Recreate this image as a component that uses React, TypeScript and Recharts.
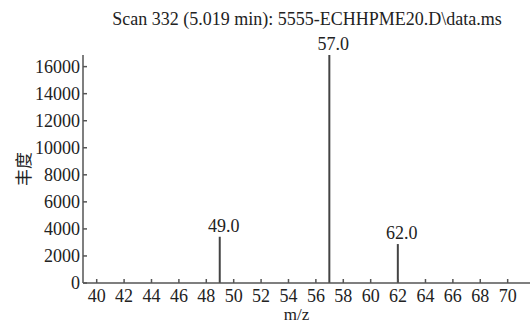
import React from 'react';
import { ComposedChart, Bar, XAxis, YAxis, LabelList } from 'recharts';

const mz = [49, 57, 62];
const abundance = [3420, 16860, 2880];
const peakLabels = ['49.0', '57.0', '62.0'];
const xTicks = [40, 42, 44, 46, 48, 50, 52, 54, 56, 58, 60, 62, 64, 66, 68, 70];
const yTicks = [0, 2000, 4000, 6000, 8000, 10000, 12000, 14000, 16000];
const title = 'Scan 332 (5.019 min): 5555-ECHHPME20.D\\data.ms';

const data = mz.map((m, i) => ({ mz: m, ab: abundance[i], label: peakLabels[i] }));

const SERIF = "'Liberation Serif', 'Times New Roman', serif";
const AXIS = '#555';
const TEXT = '#222';
const FS = 18;

const XTick = (props: any) => {
  const { x, y, payload } = props;
  return (
    <text x={x} y={y + 23} textAnchor="middle" style={{ fontFamily: SERIF, fontSize: FS }} fill={TEXT}>
      {payload.value}
    </text>
  );
};

const YTick = (props: any) => {
  const { x, y, payload } = props;
  return (
    <text x={x} y={y + 6} textAnchor="end" style={{ fontFamily: SERIF, fontSize: FS }} fill={TEXT}>
      {payload.value}
    </text>
  );
};

const PeakLabel = (props: any) => {
  const { x, y, width, value } = props;
  return (
    <text x={x + width / 2 + 4} y={y - 5} textAnchor="middle" style={{ fontFamily: SERIF, fontSize: FS }} fill={TEXT}>
      {value}
    </text>
  );
};

const XLabel = (props: any) => {
  const { viewBox } = props;
  return (
    <text
      x={viewBox.x + viewBox.width / 2 - 10}
      y={viewBox.y + viewBox.height - 3.8}
      textAnchor="middle"
      style={{ fontFamily: SERIF, fontSize: 17 }}
      fill={TEXT}
    >
      m/z
    </text>
  );
};

const YLabel = (props: any) => {
  const { viewBox } = props;
  const cx = viewBox.x + 22;
  const cy = viewBox.y + viewBox.height / 2;
  return (
    <text
      x={cx}
      y={cy}
      transform={`rotate(-90 ${cx} ${cy})`}
      textAnchor="middle"
      dominantBaseline="central"
      style={{ fontFamily: "'Noto Sans CJK SC', sans-serif", fontSize: 17 }}
      fill={TEXT}
    >
      丰度
    </text>
  );
};

export default function App() {
  return (
    <div style={{ position: 'absolute', left: 0, top: 0, width: 531, height: 324, background: '#fff' }}>
      <div
        style={{
          position: 'absolute',
          left: 0,
          width: 614,
          top: 7,
          textAlign: 'center',
          fontFamily: SERIF,
          fontSize: FS,
          lineHeight: '24px',
          color: TEXT,
          whiteSpace: 'nowrap',
        }}
      >
        {title}
      </div>
      <ComposedChart width={531} height={324} data={data} margin={{ top: 55, right: 1, bottom: 0, left: 0 }}>
        <XAxis
          dataKey="mz"
          type="number"
          domain={[39, 71.63]}
          ticks={xTicks}
          allowDataOverflow
          stroke={AXIS}
          strokeWidth={1.5}
          tickSize={-4}
          tickMargin={0}
          tick={<XTick />}
          interval={0}
          height={41}
          label={<XLabel />}
        />
        <YAxis
          type="number"
          domain={[0, 16860]}
          ticks={yTicks}
          allowDataOverflow
          width={83}
          stroke={AXIS}
          strokeWidth={1.5}
          tickSize={-4}
          tickMargin={7}
          tick={<YTick />}
          interval={0}
          label={<YLabel />}
        />
        <Bar dataKey="ab" fill="#444" barSize={2} isAnimationActive={false}>
          <LabelList dataKey="label" content={<PeakLabel />} />
        </Bar>
      </ComposedChart>
    </div>
  );
}
